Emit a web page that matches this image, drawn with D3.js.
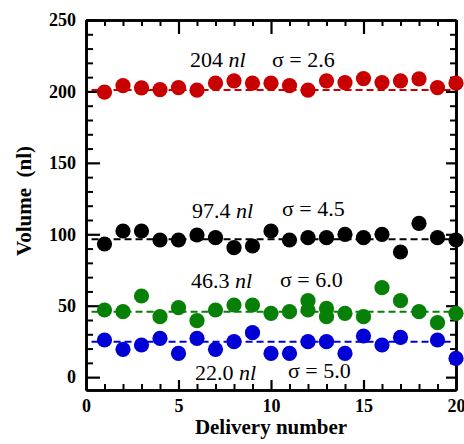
<!DOCTYPE html>
<html>
<head>
<meta charset="utf-8">
<script src="https://cdn.jsdelivr.net/npm/d3@7"></script>
<style>
  body { margin: 0; background: #fff; }
  svg { display: block; }
  text { font-family: "Liberation Serif", "Times New Roman", serif; }
</style>
</head>
<body>
<svg id="chart" width="464" height="444"></svg>
<script>
// ---- data ----
const redX   = [1,2,3,4,5,6,7,8,9,10,11,12,13,14,15,16,17,18,19,20];
const redY   = [199.5,204.1,202.5,201.3,202.7,200.9,205.8,207.4,205.8,205.8,204.1,200.9,207.4,206.2,209.0,206.2,207.4,208.8,202.7,205.8];
const blackX = [1,2,3,4,5,6,7,8,9,10,11,12,13,14,15,16,17,18,19,20];
const blackY = [93.2,102.3,102.3,96.0,96.0,99.5,97.6,90.6,91.8,102.3,96.0,97.6,97.6,100.0,97.6,100.0,87.6,107.6,97.6,96.0];
const greenX = [1,2,3,4,5,6,7,8,9,10,11,12,12,13,13,14,15,16,17,18,19,20];
const greenY = [47.0,45.8,56.8,42.3,48.6,39.5,47.0,50.5,50.5,44.7,45.8,53.5,47.0,48.1,42.3,44.7,42.3,62.6,53.5,45.8,38.1,44.7];
const blueX  = [1,2,3,4,5,6,7,8,9,10,11,12,13,14,15,16,17,19,20];
const blueY  = [26.0,19.5,22.5,27.2,16.6,27.2,19.5,24.8,31.1,16.6,16.6,24.8,24.8,16.6,28.8,22.5,27.8,26.0,13.1];
const meanLevels = [201.0, 96.5, 45.8, 24.8];
const meanLabels = ["204", "97.4", "46.3", "22.0"];
const sigmaLabels = ["σ = 2.6", "σ = 4.5", "σ = 6.0", "σ = 5.0"];
const yMajorTicks = [0,50,100,150,200,250];
const yMinorTicks = [10,20,30,40,60,70,80,90,110,120,130,140,160,170,180,190,210,220,230,240];
const xMajorTicks = [0,5,10,15,20];
const xMinorTicks = [1,2,3,4,6,7,8,9,11,12,13,14,16,17,18,19];
const colors = ["#c80000", "#000000", "#078007", "#0000d6"];

// ---- layout ----
const FONT = '"Liberation Serif", "Times New Roman", serif';
const svg = d3.select("#chart");
const L = 86, R = 456, T = 20, B = 390;
const x = d3.scaleLinear().domain([0, 20]).range([L, R]);
const y = d3.scaleLinear().domain([-9, 250]).range([B, T]);

function styleAxis(g, sw) {
  g.attr("font-family", FONT);
  g.selectAll("path.domain").attr("stroke", "#000").attr("stroke-width", 2.6);
  g.selectAll(".tick line").attr("stroke", "#000").attr("stroke-width", sw);
  g.selectAll(".tick text").attr("fill", "#000")
    .style("font-family", FONT)
    .style("font-weight", "bold").style("font-size", "18px");
}

// minor ticks
svg.append("g").attr("transform", `translate(${L},0)`)
  .call(d3.axisLeft(y).tickValues(yMinorTicks).tickSize(-7).tickSizeOuter(0).tickFormat(""))
  .call(g => styleAxis(g, 2));
svg.append("g").attr("transform", `translate(${R},0)`)
  .call(d3.axisRight(y).tickValues(yMinorTicks).tickSize(-6).tickSizeOuter(0).tickFormat(""))
  .call(g => styleAxis(g, 2));
svg.append("g").attr("transform", `translate(0,${B})`)
  .call(d3.axisBottom(x).tickValues(xMinorTicks).tickSize(-6).tickSizeOuter(0).tickFormat(""))
  .call(g => styleAxis(g, 2));
svg.append("g").attr("transform", `translate(0,${T})`)
  .call(d3.axisTop(x).tickValues(xMinorTicks).tickSize(-6).tickSizeOuter(0).tickFormat(""))
  .call(g => styleAxis(g, 2));

// major ticks
svg.append("g").attr("transform", `translate(${L},0)`)
  .call(d3.axisLeft(y).tickValues(yMajorTicks).tickSize(-14).tickSizeOuter(0).tickPadding(10).tickFormat(d3.format("d")))
  .call(g => styleAxis(g, 2.2));
svg.append("g").attr("transform", `translate(${R},0)`)
  .call(d3.axisRight(y).tickValues(yMajorTicks).tickSize(-10).tickSizeOuter(0).tickFormat(""))
  .call(g => styleAxis(g, 2.2));
svg.append("g").attr("transform", `translate(0,${B})`)
  .call(d3.axisBottom(x).tickValues(xMajorTicks).tickSize(-10).tickSizeOuter(0).tickPadding(9).tickFormat(d3.format("d")))
  .call(g => styleAxis(g, 2.2));
svg.append("g").attr("transform", `translate(0,${T})`)
  .call(d3.axisTop(x).tickValues(xMajorTicks).tickSize(-14).tickSizeOuter(0).tickFormat(""))
  .call(g => styleAxis(g, 2.2));

// axis titles
svg.append("text")
  .attr("x", (L + R) / 2).attr("y", 434)
  .attr("text-anchor", "middle")
  .style("font-family", FONT)
  .style("font-weight", "bold").style("font-size", "21px")
  .text("Delivery number");
svg.append("text")
  .attr("transform", `translate(31,${(T + B) / 2 - 4}) rotate(-90)`)
  .attr("text-anchor", "middle")
  .style("font-family", FONT)
  .style("font-weight", "bold").style("font-size", "21px")
  .style("white-space", "pre")
  .text("Volume  (nl)");

// mean lines
const plot = svg.append("g");
meanLevels.forEach((m, i) => {
  plot.append("line")
    .attr("x1", x(0.3)).attr("x2", x(19.8))
    .attr("y1", y(m)).attr("y2", y(m))
    .attr("stroke", colors[i]).attr("stroke-width", 2)
    .attr("stroke-dasharray", "7,4");
});

// points
const series = [[redX, redY], [blackX, blackY], [greenX, greenY], [blueX, blueY]];
series.forEach(([xs, ys], i) => {
  plot.append("g").selectAll("circle")
    .data(xs.map((d, j) => [d, ys[j]]))
    .join("circle")
    .attr("cx", d => x(d[0]))
    .attr("cy", d => y(d[1]))
    .attr("r", 7.6)
    .attr("fill", colors[i]);
});

// annotations
const meanPos = [[190, 67], [192, 218], [191, 288], [195, 380]];
const sigmaPos = [[272, 67], [282, 216], [280, 287], [288, 378]];
meanLabels.forEach((lab, i) => {
  const t = svg.append("text")
    .attr("x", meanPos[i][0]).attr("y", meanPos[i][1])
    .style("font-family", FONT)
    .style("font-size", "22px").attr("fill", "#000")
    .style("white-space", "pre");
  t.append("tspan").text(lab + " ");
  t.append("tspan").style("font-style", "italic").text("nl");
  svg.append("text")
    .attr("x", sigmaPos[i][0]).attr("y", sigmaPos[i][1])
    .style("font-family", FONT)
    .style("font-size", "22px").attr("fill", "#000")
    .text(sigmaLabels[i]);
});
</script>
</body>
</html>
